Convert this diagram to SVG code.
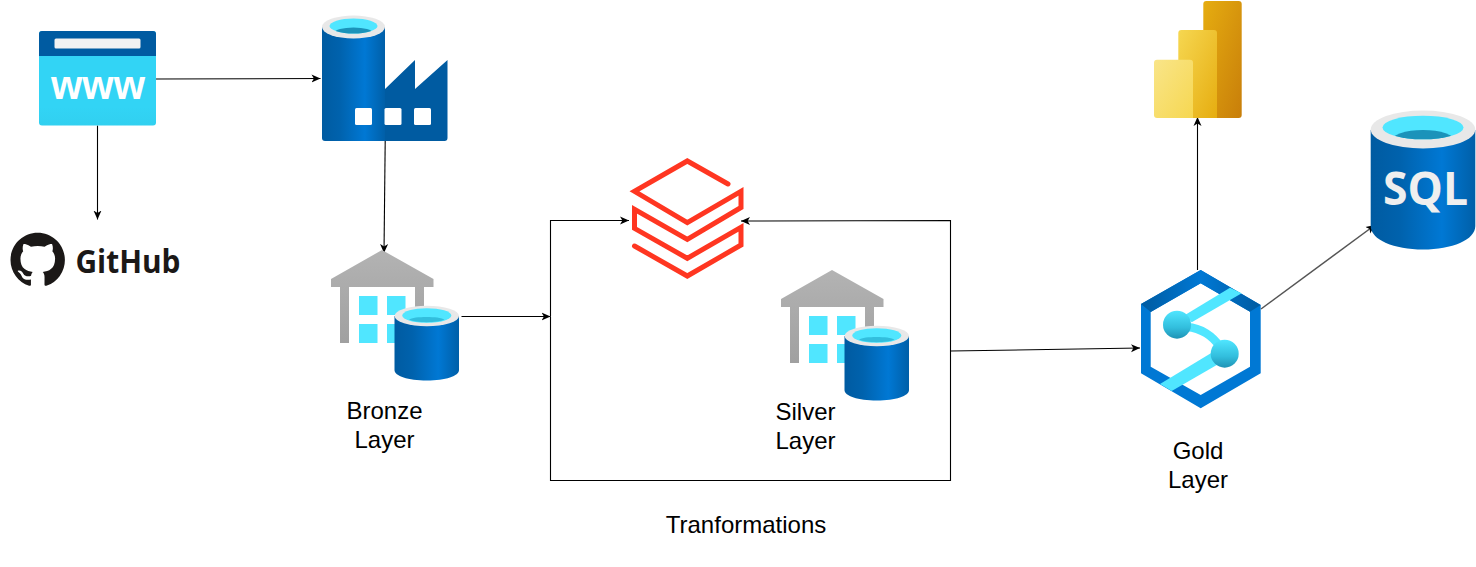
<svg xmlns="http://www.w3.org/2000/svg" width="1476" height="567" viewBox="0 0 1476 567">
<style>
text{font-family:"Liberation Sans",Arial,sans-serif;font-size:24px;fill:#000;text-anchor:middle}
.c{fill:none;stroke:#000;stroke-width:1.1}
.a{marker-end:url(#arrow)}
.body{fill:url(#blue)}
.rim{fill:#e8e8e8}
.water{fill:#50e6ff}
.win{fill:#50e6ff}
.dbx{fill:none;stroke:#ff3621;stroke-width:5;stroke-linejoin:miter;stroke-linecap:round}
</style>
<defs>
<marker id="arrow" markerUnits="userSpaceOnUse" markerWidth="10" markerHeight="10" refX="9" refY="4.5" orient="auto"><path d="M0,0.500 L9,4.500 L0,8.500 L2.400,4.500 z" fill="#000"/></marker>
<linearGradient id="blue" x1="0" x2="1" y1="0" y2="0"><stop offset="0" stop-color="#005ba1"/><stop offset=".28" stop-color="#0062ad"/><stop offset=".68" stop-color="#0078d4"/><stop offset="1" stop-color="#005fa8"/></linearGradient>
<linearGradient id="silo" x1="0" x2="0" y1="0" y2="1"><stop offset="0" stop-color="#b3b3b3"/><stop offset="1" stop-color="#a0a0a0"/></linearGradient>
<linearGradient id="ball" x1="0" x2="0" y1="0" y2="1"><stop offset="0" stop-color="#50e6ff"/><stop offset=".6" stop-color="#32bedd"/><stop offset="1" stop-color="#1f93b5"/></linearGradient>
<linearGradient id="hexTop" gradientUnits="userSpaceOnUse" x1="1141" y1="0" x2="1261" y2="0"><stop offset="0" stop-color="#005ba1"/><stop offset=".5" stop-color="#0078d4"/><stop offset="1" stop-color="#005ba1"/></linearGradient>
<linearGradient id="pb1" x1="0" x2="1" y1="0" y2="1"><stop offset="0" stop-color="#e6ad10"/><stop offset="1" stop-color="#c87e0a"/></linearGradient>
<linearGradient id="pb2" x1="0" x2="1" y1="0" y2="1"><stop offset="0" stop-color="#f6d751"/><stop offset="1" stop-color="#e6ad10"/></linearGradient>
<linearGradient id="pb3" x1="0" x2="1" y1="0" y2="1"><stop offset="0" stop-color="#f9e589"/><stop offset="1" stop-color="#f6d751"/></linearGradient>
<linearGradient id="www" x1="0" x2="0" y1="0" y2="1"><stop offset="0" stop-color="#32d4f5"/><stop offset=".8" stop-color="#32d4f5"/><stop offset="1" stop-color="#31d0f0"/></linearGradient>
<g id="warehouse">
<path d="M382,250 L433.500,279 V287 H424 V343 H415 V287 H349 V343 H340 V287 H331 V279 Z" fill="url(#silo)"/>
<rect class="win" x="359" y="296" width="18.500" height="19"/><rect class="win" x="387" y="296" width="18.500" height="19"/>
<rect class="win" x="359" y="324" width="18.500" height="19"/><rect class="win" x="387" y="324" width="18.500" height="19"/>
<path class="body" d="M394.500,316 V370 C394.500,376 408,380.500 426.800,380.500 C445.500,380.500 459,376 459,370 V316 Z"/>
<ellipse class="rim" cx="426.800" cy="316" rx="32.200" ry="10.300"/>
<ellipse class="water" cx="426.800" cy="315.500" rx="24.500" ry="7.300"/>
<path d="M409,319.500 C414,316.200 439,316.200 444.500,319.500 C438,323 415,323 409,319.500 Z" fill="#32bedd"/>
</g>
<clipPath id="sqlw"><ellipse cx="1423" cy="127.500" rx="40.500" ry="11.800"/></clipPath>
<clipPath id="facw"><ellipse cx="353.500" cy="26" rx="24" ry="7.500"/></clipPath>
</defs>

<g id="connectors">
<path class="c a" d="M156,79 L320.500,78.500"/>
<path class="c a" d="M97.500,125.500 V219.500"/>
<path class="c a" d="M385.200,141 L384,253"/>
<path class="c a" d="M461.500,316.500 H550.500"/>
<path class="c a" d="M550.500,316.500 V220.500 H629"/>
<path class="c a" d="M950.500,350 V220.500 L741,221"/>
<path class="c" d="M550.500,316.500 V480.500 H950.500 V350"/>
<path class="c a" d="M950.500,351 L1140,348"/>
<path class="c a" d="M1197.500,270 V117"/>
<path class="c a" d="M1261,309 L1375,225" style="stroke:#555;stroke-width:1.500"/>
</g>

<g id="www-node">
<rect x="39" y="31" width="117" height="94.500" rx="3" fill="url(#www)"/>
<path d="M39,56 V34 a3,3 0 0 1 3,-3 H153 a3,3 0 0 1 3,3 V56 Z" fill="#005ba1"/>
<rect x="54.500" y="38.500" width="86" height="10" rx="1.500" fill="#f2f2f2"/>
<text x="98" y="99" textLength="94" lengthAdjust="spacingAndGlyphs" style="font-weight:700;font-size:40px;fill:#fff">www</text>
</g>

<g id="factory-node">
<path d="M385,89 L415,60 V89 L447.500,60 V138 a3,3 0 0 1 -3,3 H354 V89 Z" fill="#005ba1"/>
<path class="body" d="M322,27 V138 a3,3 0 0 0 3,3 H385 V27 Z"/>
<ellipse class="rim" cx="353.500" cy="27" rx="31.500" ry="11.500"/>
<ellipse class="water" cx="353.500" cy="26" rx="24" ry="7.500"/>
<ellipse cx="353.500" cy="33" rx="19" ry="5.500" fill="#1b93ba" clip-path="url(#facw)"/>
<rect x="355" y="108" width="17" height="17" rx="1.500" fill="#fff"/>
<rect x="384.500" y="108" width="17" height="17" rx="1.500" fill="#fff"/>
<rect x="414" y="108" width="17" height="17" rx="1.500" fill="#fff"/>
</g>

<g id="github-node">
<path transform="translate(10.500,232.800) scale(3.400)" fill="#1b1817" d="M8 0C3.580 0 0 3.580 0 8c0 3.540 2.290 6.530 5.470 7.590.4.070.55-.17.55-.38 0-.19-.01-.82-.01-1.490-2.010.37-2.530-.49-2.690-.94-.09-.23-.48-.94-.82-1.130-.28-.15-.68-.52-.01-.53.63-.01 1.080.58 1.230.82.72 1.210 1.870.87 2.330.66.07-.52.28-.87.51-1.070-1.780-.2-3.640-.89-3.640-3.950 0-.87.31-1.590.82-2.150-.08-.2-.36-1.020.08-2.120 0 0 .67-.21 2.200.82.64-.18 1.320-.27 2-.27.68 0 1.360.09 2 .27 1.530-1.040 2.200-.82 2.200-.82.44 1.100.16 1.920.08 2.120.51.56.82 1.270.82 2.150 0 3.070-1.870 3.750-3.650 3.950.29.25.54.73.54 1.480 0 1.070-.01 1.930-.01 2.200 0 .21.15.46.55.38A8.013 8.013 0 0016 8c0-4.420-3.580-8-8-8z"/>
<text x="128" y="273" textLength="105" lengthAdjust="spacingAndGlyphs" style="font-family:'Open Sans',sans-serif;font-weight:700;font-size:32px;fill:#1b1817">GitHub</text>
</g>

<g id="bronze-node"><use href="#warehouse"/></g>
<g id="bronze-label"><text x="384.500" y="419">Bronze</text><text x="384.500" y="448">Layer</text></g>

<g id="databricks-node">
<path class="dbx" d="M728,184 L687.300,161 L634.500,191.300 L687.300,222.700 L741,191.300 V207.500 L687.300,239.300 L634.500,209.300 V228.300 L687.300,258.300 L741,227.300 V245 L687.300,276 L634.500,246"/>
</g>

<g id="silver-node"><use href="#warehouse" transform="translate(450,20)"/></g>
<g id="silver-label"><text x="805.500" y="420">Silver</text><text x="805.500" y="449">Layer</text></g>
<g id="transform-label"><text x="746" y="533">Tranformations</text></g>

<g id="gold-node">
<path d="M1200.700,270 L1260.700,305 V373.300 L1200.700,408.300 L1141,373.300 V304 Z M1200.700,283.300 L1150.700,312 V366.700 L1200.700,395 L1250,366.700 V311.700 Z" fill="#0078d4" fill-rule="evenodd"/>
<path d="M1200.700,270 L1260.700,305 L1250,311.700 L1200.700,283.300 L1150.700,312 L1141,304 Z" fill="url(#hexTop)"/>
<path d="M1230,287.700 L1241.700,293.300 L1191.700,322.300 L1185,315 Z" fill="#50e6ff"/>
<path d="M1160,384 L1171.700,391 L1226.700,359.300 L1213.300,351.700 Z" fill="#50e6ff"/>
<path d="M1187,327 C1201,328 1213,336 1220,347" fill="none" stroke="#50e6ff" stroke-width="8.500"/>
<circle cx="1177" cy="324.700" r="14" fill="url(#ball)"/>
<circle cx="1224.700" cy="353.700" r="14" fill="url(#ball)"/>
</g>
<g id="gold-label"><text x="1198" y="459">Gold</text><text x="1198" y="488">Layer</text></g>

<g id="powerbi-node">
<rect x="1203.300" y="1" width="38.400" height="117" rx="3" fill="url(#pb1)"/>
<path d="M1181.300,30 H1214 a3,3 0 0 1 3,3 V118 H1178.300 V33 a3,3 0 0 1 3,-3 Z" fill="url(#pb2)"/>
<path d="M1157,59.700 H1190 a3,3 0 0 1 3,3 V118 H1157 a3,3 0 0 1 -3,-3 V62.700 a3,3 0 0 1 3,-3 Z" fill="url(#pb3)"/>
</g>

<g id="sql-node">
<path class="body" d="M1370.700,130 V226 C1370.700,240 1394,249.500 1423,249.500 C1452,249.500 1475.300,240 1475.300,226 V130 Z"/>
<ellipse class="rim" cx="1423" cy="129.500" rx="52.300" ry="19"/>
<ellipse class="water" cx="1423" cy="127.500" rx="40.500" ry="11.800"/>
<ellipse cx="1423" cy="141" rx="32" ry="11" fill="#1b93ba" clip-path="url(#sqlw)"/>
<text x="1425.500" y="205" textLength="85" lengthAdjust="spacingAndGlyphs" style="font-family:'Open Sans',sans-serif;font-weight:700;font-size:46px;fill:#efefef">SQL</text>
</g>
</svg>
